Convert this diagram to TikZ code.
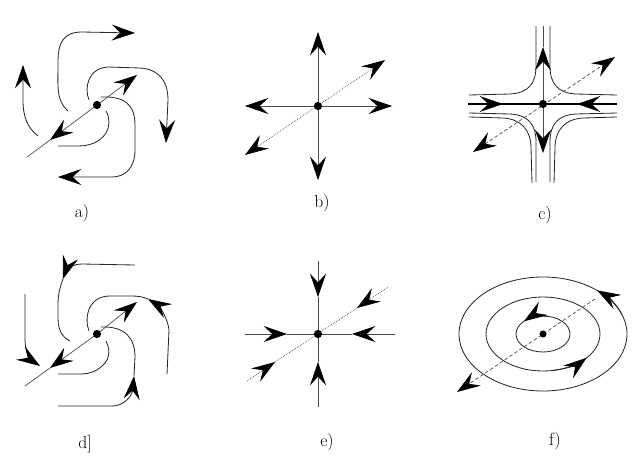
\documentclass[tikz,border=0pt]{standalone}
\usetikzlibrary{
  arrows.meta, % For arrow tips
  calc % For coordinate calculations
}

\begin{document}
\begin{tikzpicture}[
    x=0.03cm, y=-0.03cm, % pixel grid, y downwards
    >={Stealth[length=7mm, width=4.8mm, inset=2.6mm, color=black]}, % Default arrow tip
    traj/.style={black!85, line width=0.7pt}, % Style for trajectories
    vec/.style={traj, ->}, % trajectory with arrow
    axisline/.style={black!70, line width=0.6pt}, % Style for eigen directions
    diagline/.style={axisline, densely dotted},
    paneltext/.style={font=\fontsize{15}{18}\selectfont},
  ]

    \useasboundingbox (0,0) rectangle (643,468);

    % Mittelpunkte
    \coordinate (A) at (97,105);
    \coordinate (B) at (318,106);
    \coordinate (C) at (543,104);
    \coordinate (D) at (97,334);
    \coordinate (E) at (318,334);
    \coordinate (F) at (543,334);

    % a)
    \draw[axisline, ->] (A) -- (137,75);
    \draw[axisline, ->] (A) -- (50,140);
    \draw[axisline] (50,140) -- (27,157);
    \draw[vec] (68,111) .. controls (56,100) and (58,88) .. (58,62) .. controls (58,42) and (64,32) .. (82,32) -- (135,33);
    \draw[vec] (38,136) .. controls (28,128) and (23,118) .. (23,100) -- (23,65);
    \draw[vec] (89,100) .. controls (84,88) and (88,68) .. (108,67) -- (140,68) .. controls (158,69) and (168,80) .. (168,100) -- (166,143);
    \draw[vec] (101,97) .. controls (125,96) and (135,105) .. (135,125) -- (135,150) .. controls (135,168) and (125,177) .. (112,177) -- (58,177);
    \draw[traj] (106,111) .. controls (110,118) and (110,126) .. (106,133) .. controls (100,142) and (90,146) .. (78,146) -- (58,146);
    \fill (A) circle (3.5pt);

    % b)
    \draw[axisline, <->] (318,32) -- (318,180);
    \draw[axisline, <->] (245,106) -- (392,106);
    \draw[diagline, <->] (245,155) -- (385,60);
    \fill (B) circle (3.5pt);

    % c)
    \foreach \sx/\sy in {1/1, -1/1, 1/-1, -1/-1}
    \draw[traj, shift={(C)}, xscale=\sx, yscale=\sy] (-74,-9) -- (-33,-10) .. controls (-15,-11) and (-7,-20) .. (-7,-38) -- (-7,-78);
    \foreach \sx in {1, -1}
    \draw[traj, shift={(C)}, xscale=\sx] (-74,13) -- (-40,14) .. controls (-22,15) and (-12,26) .. (-12,44) -- (-11,79);
    \draw[black, line width=1.3pt] (468,104) -- (617,104);
    \draw[black, line width=1.3pt, ->] (468,104) -- (503,104);
    \draw[black, line width=1.3pt, ->] (617,104) -- (577,104);
    \draw[axisline, ->] (C) -- (543,47);
    \draw[axisline] (543,47) -- (543,26);
    \draw[axisline, ->] (C) -- (543,153);
    \draw[axisline, densely dashed, <->] (473,152) -- (615,57);
    \fill (C) circle (3.5pt);

    % d)
    \draw[axisline, ->] (D) -- (137,302);
    \draw[axisline, ->] (D) -- (50,368);
    \draw[axisline] (50,368) -- (25,386);
    \draw[vec] (135,265) -- (82,264) .. controls (72,264) and (66,270) .. (63,279);
    \draw[traj] (63,279) .. controls (59,290) and (58,296) .. (58,305) -- (58,318) .. controls (58,330) and (62,337) .. (70,341);
    \draw[vec] (25,294) -- (25,340) .. controls (25,352) and (31,360) .. (40,366);
    \draw[vec] (167,374) -- (169,330) .. controls (168,318) and (158,305) .. (148,299);
    \draw[traj] (148,299) .. controls (143,297) and (140,296) .. (130,296) -- (110,296) .. controls (88,296) and (84,318) .. (89,331);
    \draw[vec] (58,406) -- (112,406) .. controls (124,406) and (132,396) .. (134,376);
    \draw[traj] (134,376) -- (135,357) .. controls (135,338) and (125,326) .. (101,327);
    \draw[traj] (106,341) .. controls (110,349) and (110,357) .. (105,363) .. controls (98,371) and (90,374) .. (80,374) -- (58,374);
    \fill (D) circle (3.5pt);

    % e)
    \draw[axisline, ->] (318,261) -- (318,297);
    \draw[axisline, ->] (318,407) -- (318,362);
    \draw[axisline] (318,297) -- (318,362);
    \draw[axisline, ->] (245,334) -- (287,334);
    \draw[axisline, ->] (395,334) -- (352,334);
    \draw[axisline] (287,334) -- (352,334);
    \draw[diagline, ->] (247,381) -- (275,362);
    \draw[diagline, ->] (388,287) -- (357,308);
    \draw[diagline] (275,362) -- (357,308);
    \fill (E) circle (3.5pt);

    % f)
    \draw[traj] (F) ellipse [x radius=2.52cm, y radius=1.71cm];
    \draw[traj] (F) ellipse [x radius=1.71cm, y radius=1.11cm];
    \draw[traj] (F) ellipse [x radius=0.81cm, y radius=0.54cm];
    \draw[axisline, densely dashed, ->] (595,299) -- (457,392);
    \draw[traj, ->] (622,314.5) arc [start angle=20, end angle=50, x radius=2.52cm, y radius=1.71cm];
    \draw[traj, ->] (552.9,370.4) arc [start angle=-80, end angle=-40, x radius=1.71cm, y radius=1.11cm];
    \draw[traj, ->] (547.7,316.3) arc [start angle=80, end angle=135, x radius=0.81cm, y radius=0.54cm];
    \fill (F) circle (3pt);

    % Beschriftung
    \node[paneltext] (la) at (82,213) {a)};
    \node[paneltext] (lb) at (322,203) {b)};
    \node[paneltext] (lc) at (545,215) {c)};
    \node[paneltext] (ld) at (85,444) {d]};
    \node[paneltext] (le) at (327,442) {e)};
    \node[paneltext] (lf) at (555,441) {f)};

  \end{tikzpicture}
\end{document}
